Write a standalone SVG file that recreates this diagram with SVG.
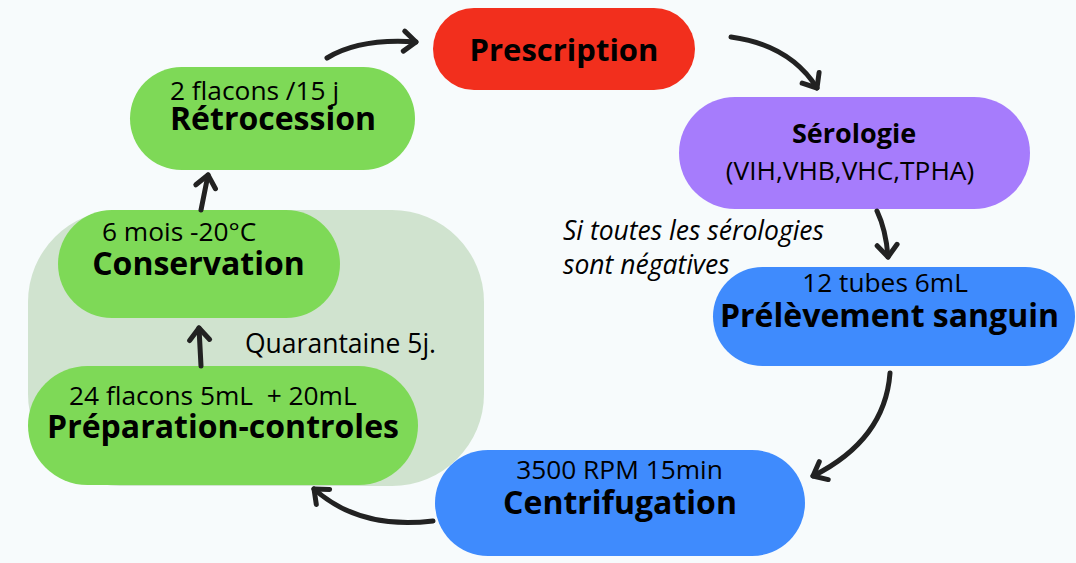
<svg xmlns="http://www.w3.org/2000/svg" width="1076" height="563" viewBox="0 0 1076 563">
<defs>
<style>
.b{font-family:"Open Sans","DejaVu Sans",sans-serif;font-weight:700;fill:#000;text-anchor:middle}
.r{font-family:"Open Sans","DejaVu Sans",sans-serif;font-weight:400;fill:#000}
.c{text-anchor:middle}
.i{font-style:italic}
.g{fill:#7ed957}
.bl{fill:#3f8bfd}
.ar{fill:none;stroke:#222;stroke-width:5;stroke-linecap:round}
</style>
<marker id="h" markerUnits="userSpaceOnUse" markerWidth="30" markerHeight="30" refX="0" refY="0" viewBox="-20 -15 30 30" orient="auto" overflow="visible">
<path d="M-12,-10 L0,0 L-12,10" fill="none" stroke="#222" stroke-width="5" stroke-linecap="round" stroke-linejoin="round"/>
</marker>
</defs>
<rect width="1076" height="563" fill="#f7fbfc"/>
<g id="quarantine-zone">
<rect x="28" y="210" width="456" height="276" rx="92" fill="#d0e3cf"/>
<text class="r" x="245" y="353" font-size="26.5">Quarantaine 5j.</text>
</g>
<g id="prescription">
<rect x="433" y="8" width="262" height="82" rx="41" fill="#f22f1d"/>
<text class="b" x="564" y="61" font-size="31">Prescription</text>
</g>
<g id="serologie">
<rect x="679" y="97" width="351" height="112" rx="56" fill="#a67cfc"/>
<text class="b" x="854" y="143" font-size="27">Sérologie</text>
<text class="r c" x="850" y="180" font-size="26.3">(VIH,VHB,VHC,TPHA)</text>
</g>
<g id="note">
<text class="r i" x="563" y="240" font-size="26.5">Si toutes les sérologies</text>
<text class="r i" x="563" y="274" font-size="26.5">sont négatives</text>
</g>
<g id="prelevement">
<rect x="713" y="267" width="362" height="99" rx="49.5" class="bl"/>
<text class="r c" x="885" y="292" font-size="26.3">12 tubes 6mL</text>
<text class="b" x="889.5" y="327" font-size="32">Prélèvement sanguin</text>
</g>
<g id="centrifugation">
<rect x="435" y="450" width="370" height="106" rx="53" class="bl"/>
<text class="r c" x="619.5" y="479" font-size="26.3">3500 RPM 15min</text>
<text class="b" x="620" y="514" font-size="32">Centrifugation</text>
</g>
<g id="preparation">
<rect x="28" y="366" width="390" height="119" rx="59.5" class="g"/>
<text class="r" x="69" y="405" font-size="26.3" xml:space="preserve">24 flacons 5mL  + 20mL</text>
<text class="b" x="223" y="438" font-size="32">Préparation-controles</text>
</g>
<g id="conservation">
<rect x="58" y="210" width="282" height="108" rx="54" class="g"/>
<text class="r" x="102" y="241" font-size="26.3">6 mois -20°C</text>
<text class="b" x="198.5" y="275" font-size="32">Conservation</text>
</g>
<g id="retrocession">
<rect x="130" y="67" width="285" height="103" rx="51.5" class="g"/>
<text class="r" x="170" y="100" font-size="26.3">2 flacons /15 j</text>
<text class="b" x="273" y="130" font-size="32">Rétrocession</text>
</g>
<g id="connectors">
<path class="ar" d="M327,58 Q360,38 416,42" marker-end="url(#h)"/>
<path class="ar" d="M731,37 Q790,45 817,88" marker-end="url(#h)"/>
<path class="ar" d="M877,211 Q886,230 888,257" marker-end="url(#h)"/>
<path class="ar" d="M890,373 Q885,440 813,476" marker-end="url(#h)"/>
<path class="ar" d="M433,521 Q360,530 314,489" marker-end="url(#h)"/>
<path class="ar" d="M201,366 L199,328" marker-end="url(#h)"/>
<path class="ar" d="M201,210 L208,175" marker-end="url(#h)"/>
</g>
</svg>
